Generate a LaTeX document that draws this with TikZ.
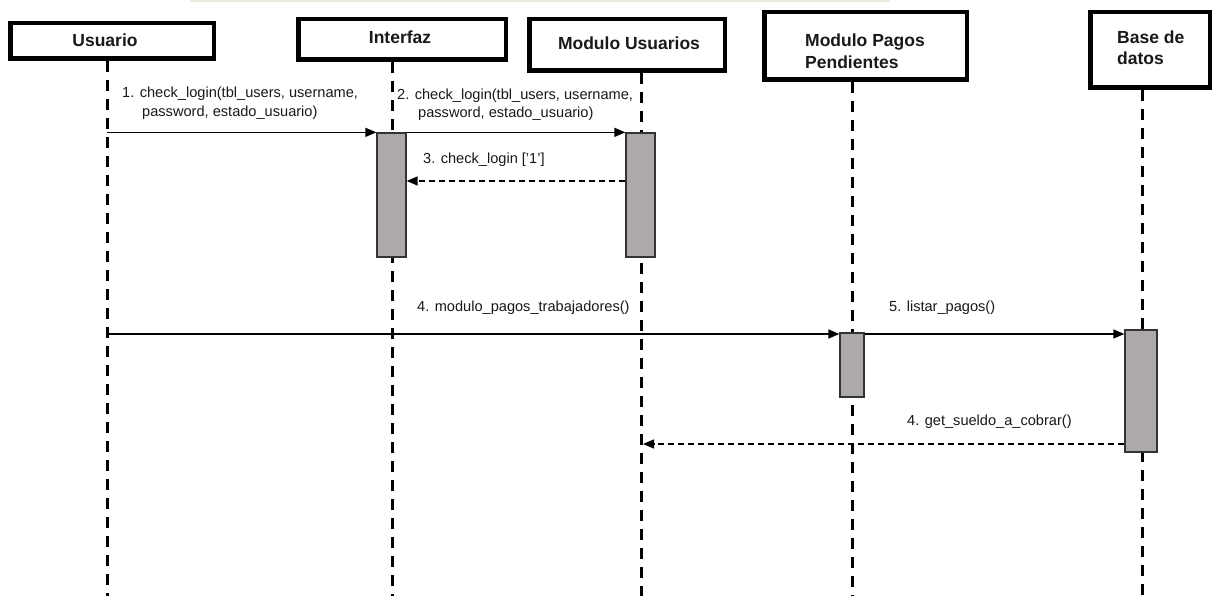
\documentclass[tikz,border=0pt]{standalone}
\usepackage{fontspec}
\setmainfont{Liberation Sans}
\usetikzlibrary{arrows.meta}
\definecolor{actfill}{HTML}{ADA9A8}
\definecolor{topband}{HTML}{ECEADC}

\begin{document}
\begin{tikzpicture}[x=1pt,y=-1pt,
  header/.style={draw=black, line width=4.5pt, fill=white, inner sep=0pt},
  title/.style={font=\fontsize{17.5}{21}\selectfont\bfseries, inner sep=0pt, text=black!90},
  lifeline/.style={line width=3pt, dash pattern=on 11pt off 8pt},
  activation/.style={draw=black!80, line width=1.3pt, fill=actfill, inner sep=0pt},
  msg/.style={line width=1.4pt, -{Triangle[length=11pt,width=9pt]}},
  reply/.style={line width=1.4pt, dash pattern=on 6pt off 4pt, -{Triangle[length=11pt,width=9pt]}},
  lbl/.style={font=\fontsize{14.6}{18}\selectfont, inner sep=0pt, anchor=base west, text=black!90}]

\useasboundingbox (0,0) rectangle (1213,596);
\fill[white] (0,0) rectangle (1213,596);
\fill[topband] (190,0) rectangle (890,1.6);

% participant boxes
\node[header, minimum width=203.5pt, minimum height=35.5pt] (usuario) at (112,41) {};
\node[header, minimum width=207.5pt, minimum height=40.5pt] (interfaz) at (402,39.5) {};
\node[header, minimum width=195.5pt, minimum height=51.5pt] (modusu) at (627,45) {};
\node[header, minimum width=202.5pt, minimum height=67.5pt] (modpag) at (865.5,46) {};
\node[header, minimum width=119.5pt, minimum height=75.5pt] (basedb) at (1150,50) {};

\node[title] (usuarioT) at (105,40) {Usuario};
\node[title] (interfazT) at (400,37) {Interfaz};
\node[title] (modusuT) at (629,43) {Modulo Usuarios};
\node[title, anchor=west, align=left, font=\fontsize{17.5}{21.5}\selectfont\bfseries] (modpagT) at (805,51) {Modulo Pagos\\Pendientes};
\node[title, anchor=west, align=left, font=\fontsize{17.5}{21}\selectfont\bfseries] (basedbT) at (1117,47.5) {Base de\\datos};

% lifeline ends
\coordinate (uTop) at (107,61);   \coordinate (uBot) at (107,596);
\coordinate (iTop) at (392,62);   \coordinate (iBot) at (392,596);
\coordinate (mTop) at (641,73);   \coordinate (mBot) at (641,596);
\coordinate (pTop) at (852,82);   \coordinate (pBot) at (852,596);
\coordinate (bTop) at (1142,90);  \coordinate (bBot) at (1142,596);

\draw[lifeline] (uTop) -- (uBot);
\draw[lifeline] (iTop) -- (iBot);
\draw[lifeline] (mTop) -- (mBot);
\draw[lifeline] (pTop) -- (pBot);
\draw[lifeline] (bTop) -- (bBot);

% activation bars
\node[activation, minimum width=29pt, minimum height=124pt] (actI) at (391.5,195) {};
\node[activation, minimum width=29pt, minimum height=124pt] (actM) at (640.5,195) {};
\node[activation, minimum width=24pt, minimum height=64pt] (actP) at (852,365) {};
\node[activation, minimum width=32pt, minimum height=122pt] (actB) at (1141,391) {};

% message rows
\coordinate (row3) at (0,181);
\coordinate (row4) at (0,334);
\coordinate (row6) at (0,444);
\coordinate (mRet) at (643,444);

\draw[msg] (uTop |- actI.north) -- (actI.north west);
\draw[msg] (actI.north east) -- (actM.north west);
\draw[reply] (actM.west |- row3) -- (actI.east |- row3);
\draw[msg] (uTop |- row4) -- (actP.west |- row4);
\draw[msg] (actP.east |- row4) -- (actB.west |- row4);
\draw[reply] (actB.west |- row6) -- (mRet);

% message labels
\node[lbl] (l1a) at (122,98) {1. check\_login(tbl\_users, username,};
\node[lbl] (l1b) at (142,117) {password, estado\_usuario)};
\node[lbl] (l2a) at (397,100) {2. check\_login(tbl\_users, username,};
\node[lbl] (l2b) at (418,118) {password, estado\_usuario)};
\node[lbl] (l3) at (423,164) {3. check\_login ['1']};
\node[lbl] (l4) at (417,311) {4. modulo\_pagos\_trabajadores()};
\node[lbl] (l5) at (889,311) {5. listar\_pagos()};
\node[lbl] (l6) at (907,425) {4. get\_sueldo\_a\_cobrar()};
\end{tikzpicture}
\end{document}
